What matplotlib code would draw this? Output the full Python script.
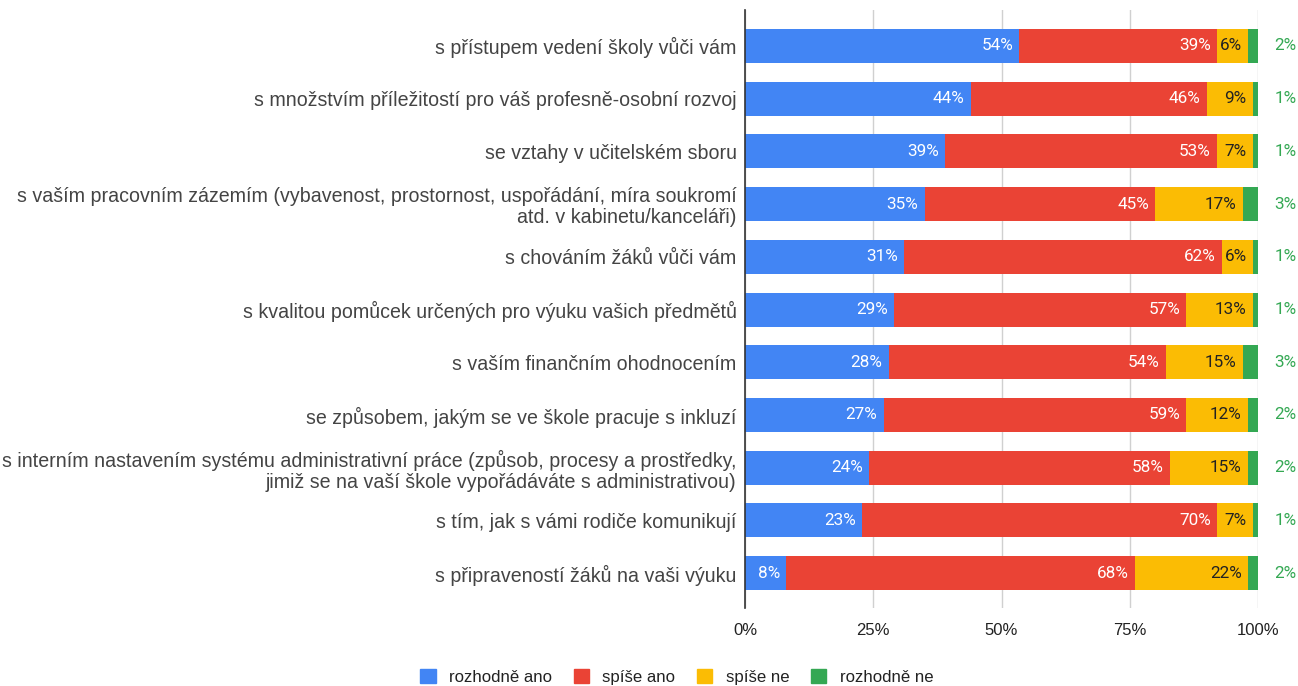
import matplotlib
matplotlib.use("Agg")
import matplotlib.pyplot as plt
import numpy as np

categories = [
    "s přístupem vedení školy vůči vám",
    "s množstvím příležitostí pro váš profesně-osobní rozvoj",
    "se vztahy v učitelském sboru",
    "s vaším pracovním zázemím (vybavenost, prostornost, uspořádání, míra soukromí\natd. v kabinetu/kanceláři)",
    "s chováním žáků vůči vám",
    "s kvalitou pomůcek určených pro výuku vašich předmětů",
    "s vaším finančním ohodnocením",
    "se způsobem, jakým se ve škole pracuje s inkluzí",
    "s interním nastavením systému administrativní práce (způsob, procesy a prostředky,\njimiž se na vaší škole vypořádáváte s administrativou)",
    "s tím, jak s vámi rodiče komunikují",
    "s připraveností žáků na vaši výuku",
]
series_names = ["rozhodně ano", "spíše ano", "spíše ne", "rozhodně ne"]
rozhodne_ano = [54, 44, 39, 35, 31, 29, 28, 27, 24, 23, 8]
spise_ano = [39, 46, 53, 45, 62, 57, 54, 59, 58, 70, 68]
spise_ne = [6, 9, 7, 17, 6, 13, 15, 12, 15, 7, 22]
rozhodne_ne = [2, 1, 1, 3, 1, 1, 3, 2, 2, 1, 2]
tick_labels = ["0%", "25%", "50%", "75%", "100%"]

colors = ["#4285F4", "#EA4335", "#FBBC04", "#34A853"]
text_colors = ["white", "white", "#222222", "#34A853"]

data = np.array([rozhodne_ano, spise_ano, spise_ne, rozhodne_ne], dtype=float)
totals = data.sum(axis=0)
shares = data / totals * 100

fig = plt.figure(figsize=(12.98, 6.86), dpi=100)
ax = fig.add_axes([745/1298, 1-608/686, 513/1298, 598/686])

y = np.arange(len(categories))
left = np.zeros(len(categories))
font = ["Liberation Sans", "DejaVu Sans"]
vfont = ["Roboto", "DejaVu Sans"]
for i in range(4):
    ax.barh(y, shares[i], left=left, height=0.645, color=colors[i],
            label=series_names[i], zorder=2)
    for j in range(len(categories)):
        lbl = f"{int(data[i, j])}%"
        if i < 3:
            ax.text(left[j] + shares[i, j] - 1.2, y[j], lbl, ha="right", va="center",
                    color=text_colors[i], fontsize=12.3, family=vfont, zorder=3)
        else:
            ax.text(105.3, y[j], lbl, ha="center", va="center",
                    color="#34A853", fontsize=12.3, family=vfont,
                    zorder=3, clip_on=False)
    left += shares[i]

ax.set_ylim(10.66, -0.68)
ax.set_xlim(0, 100)
ax.set_yticks(y)
ax.set_yticklabels(categories, fontsize=14.1, color="#444444", family=font,
                   linespacing=1.15)
for t in ax.get_yticklabels():
    t.set_horizontalalignment("right")
ax.tick_params(axis="y", length=0, pad=6)
ax.set_xticks([0, 25, 50, 75, 100])
ax.set_xticklabels(tick_labels, fontsize=12, color="#222222", family=font)
ax.tick_params(axis="x", length=0, pad=11)
ax.grid(axis="x", color="#d0d0d0", linewidth=1, zorder=0)
for s in ["top", "right", "bottom"]:
    ax.spines[s].set_visible(False)
ax.spines["left"].set_color("#333333")
ax.spines["left"].set_linewidth(1.2)
ax.spines["left"].set_zorder(4)

handles = [plt.Rectangle((0, 0), 1, 1, color=c) for c in colors]
fig.legend(handles, series_names, loc="center", bbox_to_anchor=(677/1298, 1-677/686),
           ncol=4, frameon=False, prop={"family": font, "size": 12.1},
           handlelength=0.9, handleheight=0.9, handletextpad=0.8, columnspacing=1.3,
           labelcolor="#222222")

fig.savefig("out.png", dpi=100)
